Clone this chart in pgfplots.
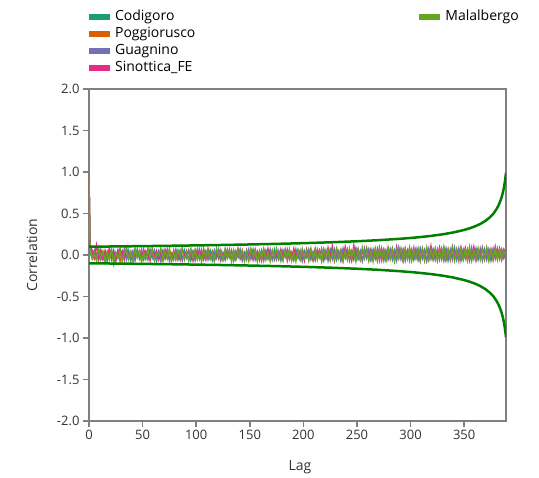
\documentclass[border=0pt]{standalone}
\usepackage{pgfplots}
\pgfplotsset{compat=1.18}
\usepackage{pgfplotstable}
\usepackage{fontspec}
\setmainfont{Open Sans}
\definecolor{cCod}{HTML}{1B9E77}
\definecolor{cPog}{HTML}{D95F02}
\definecolor{cGua}{HTML}{7570B3}
\definecolor{cSin}{HTML}{E7298A}
\definecolor{cMal}{HTML}{66A61E}
\definecolor{cBound}{HTML}{008000}
\definecolor{axgray}{HTML}{808080}
\definecolor{txtgray}{HTML}{333333}

\pgfplotstableread{
lag c p g s m
0 1.00 1.00 1.00 1.00 1.00
1 0.05 0.08 0.03 0.10 0.06
3 -0.02 0.03 -0.04 0.06 -0.05
5 0.04 -0.05 0.06 -0.03 0.02
7 -0.06 0.02 -0.01 0.12 -0.07
9 0.03 -0.07 0.05 -0.04 0.08
11 0.07 0.04 -0.06 0.05 -0.03
13 -0.04 -0.02 0.02 -0.06 0.05
15 0.01 0.06 -0.07 0.03 -0.09
17 -0.08 -0.04 0.04 -0.02 0.04
19 0.05 0.07 -0.02 0.08 -0.06
21 -0.03 -0.06 0.07 -0.05 0.07
23 0.06 0.01 -0.05 0.04 -0.11
25 -0.07 -0.03 0.03 -0.07 0.03
27 0.02 0.05 -0.03 0.06 -0.04
29 0.08 -0.08 0.06 -0.01 0.06
31 -0.05 0.04 -0.04 0.05 -0.08
33 0.03 -0.02 0.08 -0.06 0.02
35 -0.02 0.07 -0.06 0.09 0.07
37 0.06 -0.05 0.02 -0.03 -0.05
39 -0.07 0.03 -0.03 0.04 0.04
41 0.04 -0.06 0.05 -0.08 -0.07
43 -0.03 0.06 -0.07 0.06 0.08
45 0.07 -0.01 0.04 -0.02 -0.03
47 -0.05 0.04 -0.02 0.05 0.05
49 0.02 -0.07 0.07 -0.05 -0.08
51 -0.06 0.05 -0.05 0.07 0.03
53 0.05 -0.03 0.01 -0.04 -0.05
55 -0.01 0.08 -0.06 0.03 0.07
57 0.07 -0.04 0.05 -0.07 -0.04
59 -0.04 0.02 -0.03 0.08 0.06
61 0.03 -0.06 0.06 -0.03 -0.07
63 -0.08 0.05 -0.04 0.05 0.02
65 0.05 -0.02 0.03 -0.06 -0.01
67 -0.02 0.06 -0.08 0.02 0.08
69 0.06 -0.07 0.04 -0.05 -0.06
71 -0.05 0.03 -0.01 0.07 0.05
73 0.04 -0.05 0.07 -0.02 -0.03
75 -0.07 0.07 -0.05 0.04 0.07
77 0.02 -0.02 0.02 -0.07 -0.08
79 -0.03 0.04 -0.06 0.06 0.04
81 0.07 -0.06 0.05 -0.04 -0.05
83 -0.06 0.05 -0.03 0.03 0.06
85 0.03 -0.04 0.06 -0.06 -0.02
87 -0.04 0.07 -0.07 0.08 0.07
89 0.06 -0.03 0.03 -0.02 -0.06
91 -0.02 0.05 -0.04 0.05 0.03
93 0.05 -0.07 0.06 -0.05 -0.07
95 -0.07 0.02 -0.02 0.04 0.08
97 0.04 -0.05 0.05 -0.07 -0.04
99 -0.03 0.06 -0.07 0.06 0.05
101 0.07 -0.02 0.03 -0.03 -0.06
103 -0.05 0.04 -0.05 0.07 0.02
105 0.02 -0.06 0.07 -0.04 -0.08
107 -0.06 0.07 -0.03 0.03 0.07
109 0.05 -0.03 0.04 -0.06 -0.03
111 -0.02 0.05 -0.06 0.08 0.06
113 0.06 -0.05 0.02 -0.02 -0.05
115 -0.07 0.03 -0.04 0.05 0.04
117 0.03 -0.07 0.06 -0.07 -0.07
119 -0.04 0.06 -0.02 0.04 0.08
121 0.07 -0.02 0.05 -0.05 -0.02
123 -0.05 0.04 -0.07 0.06 0.05
125 0.02 -0.06 0.03 -0.03 -0.06
127 -0.06 0.05 -0.05 0.07 0.07
129 0.05 -0.03 0.07 -0.04 -0.04
131 -0.03 0.07 -0.02 0.02 0.03
133 0.06 -0.04 0.04 -0.06 -0.08
135 -0.07 0.02 -0.06 0.05 0.06
137 0.04 -0.06 0.05 -0.03 -0.05
139 -0.02 0.05 -0.03 0.08 0.07
141 0.07 -0.03 0.06 -0.05 -0.03
143 -0.05 0.06 -0.07 0.03 0.05
145 0.03 -0.05 0.02 -0.07 -0.07
147 -0.06 0.04 -0.04 0.06 0.04
149 0.05 -0.07 0.07 -0.02 -0.06
151 -0.03 0.06 -0.05 0.05 0.08
153 0.07 -0.02 0.03 -0.06 -0.02
155 -0.04 0.05 -0.06 0.07 0.06
157 0.02 -0.06 0.05 -0.03 -0.08
159 -0.07 0.03 -0.02 0.04 0.05
161 0.05 -0.05 0.06 -0.07 -0.04
163 -0.02 0.07 -0.07 0.06 0.07
165 0.06 -0.03 0.04 -0.04 -0.06
167 -0.05 0.04 -0.03 0.08 0.03
169 0.03 -0.07 0.07 -0.02 -0.07
171 -0.06 0.05 -0.05 0.05 0.06
173 0.07 -0.02 0.02 -0.06 -0.03
175 -0.03 0.06 -0.06 0.03 0.08
177 0.04 -0.05 0.05 -0.05 -0.05
179 -0.07 0.03 -0.04 0.07 0.04
181 0.05 -0.06 0.06 -0.03 -0.07
183 -0.02 0.07 -0.02 0.05 0.06
185 0.06 -0.04 0.07 -0.07 -0.04
187 -0.05 0.05 -0.05 0.06 0.07
189 0.03 -0.07 0.03 -0.04 -0.06
191 -0.06 0.04 -0.06 0.08 0.03
193 0.07 -0.03 0.05 -0.02 -0.08
195 -0.04 0.06 -0.03 0.05 0.06
197 0.02 -0.05 0.06 -0.06 -0.05
199 -0.07 0.07 -0.07 0.04 0.07
201 0.05 -0.02 0.04 -0.07 -0.03
203 -0.03 0.05 -0.02 0.07 0.05
205 0.06 -0.06 0.07 -0.03 -0.07
207 -0.05 0.03 -0.05 0.06 0.08
209 0.04 -0.07 0.03 -0.05 -0.04
211 -0.06 0.06 -0.06 0.08 0.06
213 0.07 -0.04 0.05 -0.02 -0.06
215 -0.02 0.05 -0.03 0.06 0.04
217 0.05 -0.06 0.08 -0.06 -0.08
219 -0.07 0.07 -0.04 0.05 0.07
221 0.03 -0.03 0.06 -0.04 -0.03
223 -0.05 0.06 -0.07 0.09 0.06
225 0.07 -0.05 0.04 -0.03 -0.07
227 -0.03 0.04 -0.05 0.11 0.05
229 0.06 -0.07 0.07 -0.06 -0.05
231 -0.06 0.06 -0.03 0.07 0.08
233 0.04 -0.03 0.05 -0.04 -0.04
235 -0.07 0.05 -0.06 0.06 0.06
237 0.05 -0.06 0.08 -0.07 -0.07
239 -0.02 0.07 -0.04 0.10 0.05
241 0.07 -0.04 0.06 -0.03 -0.06
243 -0.05 0.06 -0.07 0.05 0.08
245 0.03 -0.07 0.05 -0.06 -0.03
247 -0.06 0.05 -0.03 0.12 0.07
249 0.08 -0.03 0.07 -0.04 -0.08
251 -0.04 0.07 -0.05 0.07 0.06
253 0.05 -0.05 0.04 -0.06 -0.05
255 -0.07 0.06 -0.07 0.05 0.09
257 0.06 -0.04 0.08 -0.03 -0.04
259 -0.03 0.08 -0.04 0.08 0.07
261 0.07 -0.06 0.06 -0.05 -0.07
263 -0.06 0.05 -0.06 0.07 0.05
265 0.04 -0.03 0.07 -0.04 -0.08
267 -0.05 0.07 -0.03 0.06 0.08
269 0.08 -0.05 0.05 -0.07 -0.05
271 -0.04 0.06 -0.07 0.09 0.07
273 0.06 -0.07 0.08 -0.03 -0.03
275 -0.07 0.04 -0.04 0.07 0.06
277 0.05 -0.06 0.06 -0.05 -0.07
279 -0.03 0.08 -0.06 0.06 0.09
281 0.07 -0.04 0.07 -0.04 -0.05
283 -0.06 0.06 -0.03 0.08 0.07
285 0.04 -0.05 0.06 -0.06 -0.08
287 -0.05 0.07 -0.07 0.10 0.06
289 0.08 -0.03 0.09 -0.04 -0.04
291 -0.04 0.06 -0.05 0.06 0.08
293 0.06 -0.07 0.07 -0.07 -0.06
295 -0.07 0.05 -0.04 0.08 0.07
297 0.05 -0.04 0.06 -0.03 -0.05
299 -0.03 0.08 -0.07 0.07 0.09
301 0.07 -0.06 0.05 -0.05 -0.07
303 -0.06 0.05 -0.03 0.09 0.06
305 0.04 -0.03 0.08 -0.04 -0.04
307 -0.05 0.07 -0.06 0.06 0.08
309 0.08 -0.05 0.07 -0.07 -0.07
311 -0.04 0.06 -0.04 0.08 0.07
313 0.06 -0.07 0.06 -0.03 -0.05
315 -0.07 0.08 -0.07 0.07 0.09
317 0.05 -0.04 0.08 -0.05 -0.06
319 -0.03 0.06 -0.05 0.11 0.07
321 0.07 -0.06 0.06 -0.04 -0.04
323 -0.06 0.05 -0.04 0.07 0.08
325 0.05 -0.03 0.07 -0.06 -0.07
327 -0.04 0.08 -0.06 0.09 0.06
329 0.08 -0.05 0.05 -0.03 -0.05
331 -0.05 0.07 -0.07 0.08 0.10
333 0.06 -0.06 0.08 -0.05 -0.06
335 -0.07 0.05 -0.04 0.07 0.07
337 0.04 -0.04 0.07 -0.06 -0.04
339 -0.03 0.08 -0.06 0.10 0.09
341 0.09 -0.06 0.06 -0.04 -0.07
343 -0.06 0.06 -0.05 0.07 0.06
345 0.05 -0.03 0.08 -0.07 -0.05
347 -0.05 0.07 -0.07 0.09 0.08
349 0.07 -0.05 0.05 -0.03 -0.06
351 -0.04 0.08 -0.04 0.08 0.07
353 0.06 -0.07 0.07 -0.05 -0.04
355 -0.07 0.05 -0.06 0.07 0.10
357 0.05 -0.04 0.09 -0.04 -0.07
359 -0.03 0.07 -0.05 0.10 0.06
361 0.08 -0.06 0.06 -0.06 -0.05
363 -0.06 0.06 -0.04 0.07 0.08
365 0.04 -0.03 0.08 -0.03 -0.06
367 -0.05 0.08 -0.07 0.09 0.07
369 0.07 -0.05 0.05 -0.05 -0.04
371 -0.04 0.07 -0.06 0.08 0.09
373 0.06 -0.06 0.07 -0.04 -0.07
375 -0.07 0.05 -0.04 0.07 0.06
377 0.05 -0.04 0.08 -0.06 -0.05
379 -0.03 0.08 -0.05 0.10 0.08
381 0.08 -0.05 0.06 -0.03 -0.06
383 -0.05 0.07 -0.04 0.08 0.07
385 0.06 -0.06 0.07 -0.05 -0.04
387 -0.04 0.06 -0.03 0.07 0.06
389 0.03 -0.02 0.04 0.02 0.01
}\acf

\pgfplotstableread{
lag up lo
0 0.0999 -0.0999
25 0.1032 -0.1032
50 0.1069 -0.1069
75 0.1110 -0.1110
100 0.1157 -0.1157
125 0.1209 -0.1209
150 0.1270 -0.1270
175 0.1341 -0.1341
200 0.1425 -0.1425
225 0.1528 -0.1528
250 0.1656 -0.1656
270 0.1785 -0.1785
290 0.1951 -0.1951
300 0.2053 -0.2053
310 0.2173 -0.2173
320 0.2317 -0.2317
330 0.2495 -0.2495
340 0.2720 -0.2720
350 0.3020 -0.3020
355 0.3212 -0.3212
360 0.3447 -0.3447
365 0.3742 -0.3742
370 0.4128 -0.4128
374 0.4542 -0.4542
377 0.4950 -0.4950
380 0.5491 -0.5491
382 0.5970 -0.5970
384 0.6600 -0.6600
385 0.7001 -0.7001
386 0.7483 -0.7483
387 0.8084 -0.8084
388 0.8855 -0.8855
389 0.9900 -0.9900
}\bounds

\begin{document}
\begin{tikzpicture}[x=1pt,y=1pt]
\path[fill=white] (0,0) rectangle (539,477);
\begin{axis}[
  at={(89pt,56pt)}, anchor=south west,
  scale only axis, width=417pt, height=332pt,
  xmin=0, xmax=389, ymin=-2, ymax=2,
  xtick={0,50,...,350},
  ytick={-2,-1.5,...,2},
  yticklabel style={/pgf/number format/.cd, fixed, fixed zerofill, precision=1},
  /pgf/number format/assume math mode=true,
  tick label style={font=\fontsize{13}{15}\selectfont, text=txtgray},
  tick align=outside, tick pos=left,
  major tick length=6pt,
  axis line style={axgray, line width=2pt},
  every tick/.style={axgray, line width=1.5pt},
  xlabel={Lag}, ylabel={Correlation},
  label style={font=\fontsize{14}{16}\selectfont, text=txtgray},
  xlabel style={at={(axis description cs:0.506,-0.139)}, anchor=center},
  ylabel style={at={(axis description cs:-0.137,0.5)}, anchor=center, rotate=0},
  legend style={at={(axis description cs:-0.007,1.243)}, anchor=north west,
    draw=none, fill=none, inner sep=0pt, outer sep=0pt,
    font=\fontsize{14}{17}\selectfont,
    nodes={text height=10pt, text depth=3.5pt, inner ysep=1.75pt, inner xsep=2pt},
    /tikz/column sep=0pt,
    /tikz/column 2/.style={column sep=219pt}},
  legend cell align=left,
  legend columns=2,
  legend image code/.code={\draw[#1, line width=6pt] (0pt,0pt) -- (21pt,0pt);},
  every axis plot/.append style={line width=1.3pt},
]
\addplot[cCod, forget plot] table[x=lag,y=c]{\acf};
\addplot[cPog, forget plot] table[x=lag,y=p]{\acf};
\addplot[cGua, forget plot] table[x=lag,y=g]{\acf};
\addplot[cSin, forget plot] table[x=lag,y=s]{\acf};
\addplot[cMal, forget plot] table[x=lag,y=m]{\acf};
\addplot[cBound, line width=2.5pt, forget plot] table[x=lag,y=up]{\bounds};
\addplot[cBound, line width=2.5pt, forget plot] table[x=lag,y=lo]{\bounds};
\addlegendimage{cCod}\addlegendentry{Codigoro}
\addlegendimage{cMal}\addlegendentry{Malalbergo}
\addlegendimage{cPog}\addlegendentry{Poggiorusco}
\addlegendimage{empty legend}\addlegendentry{}
\addlegendimage{cGua}\addlegendentry{Guagnino}
\addlegendimage{empty legend}\addlegendentry{}
\addlegendimage{cSin}\addlegendentry{Sinottica\_FE}
\end{axis}
\end{tikzpicture}
\end{document}
